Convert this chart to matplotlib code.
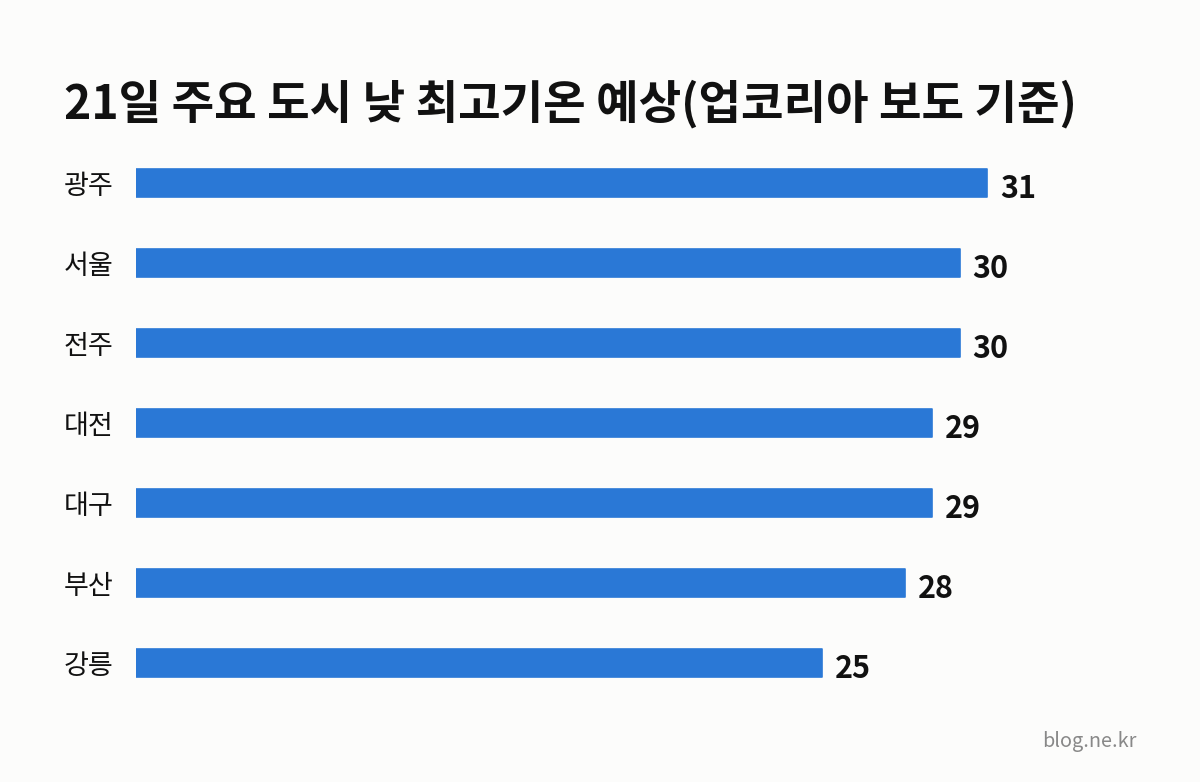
import matplotlib.pyplot as plt
from matplotlib.transforms import blended_transform_factory

plt.rcParams['font.family'] = ['Noto Sans CJK KR', 'DejaVu Sans']

# donnees
cities = ["광주", "서울", "전주", "대전", "대구", "부산", "강릉"]
temps = [31, 30, 30, 29, 29, 28, 25]
title = "21일 주요 도시 낮 최고기온 예상(업코리아 보도 기준)"
source = "blog.ne.kr"

bg = "#fcfcfb"
bar_color = "#2a78d6"

fig = plt.figure(figsize=(12, 7.82), dpi=100, facecolor=bg)
# axes: 136px -> 1136px en x, 143px -> 703px en y
ax = fig.add_axes([136 / 1200, 1 - 703 / 782, 1000 / 1200, 560 / 782])
ax.set_facecolor(bg)

ypos = list(range(len(cities)))
bars = ax.barh(ypos, temps, height=0.36, color=bar_color,
               edgecolor=bar_color, linewidth=1.2)
for b in bars:
    b.set_joinstyle("round")

ax.set_xlim(0, 1000 / 27.45)
ax.set_ylim(len(cities) - 0.5, -0.5)
ax.axis("off")

# etiquettes des villes, alignees a gauche
trans = blended_transform_factory(fig.transFigure, ax.transData)
for y, c in zip(ypos, cities):
    ax.text(64 / 1200, y + 0.05, c, transform=trans, ha="left", va="center",
            fontsize=19.5, color="#111111")

# valeurs au bout des barres
for y, v in zip(ypos, temps):
    ax.annotate(str(v), (v, y), xytext=(13, -6), textcoords="offset pixels",
                ha="left", va="center", fontsize=22, fontweight="bold",
                color="#111111")

fig.text(64 / 1200, 1 - 104 / 782, title, ha="left", va="center",
         fontsize=33.3, fontweight="bold", color="#111111")
fig.text(1136 / 1200, 1 - 741 / 782, source, ha="right", va="center",
         fontsize=14.3, color="#888888")

fig.savefig("out.png", dpi=100, facecolor=bg)
